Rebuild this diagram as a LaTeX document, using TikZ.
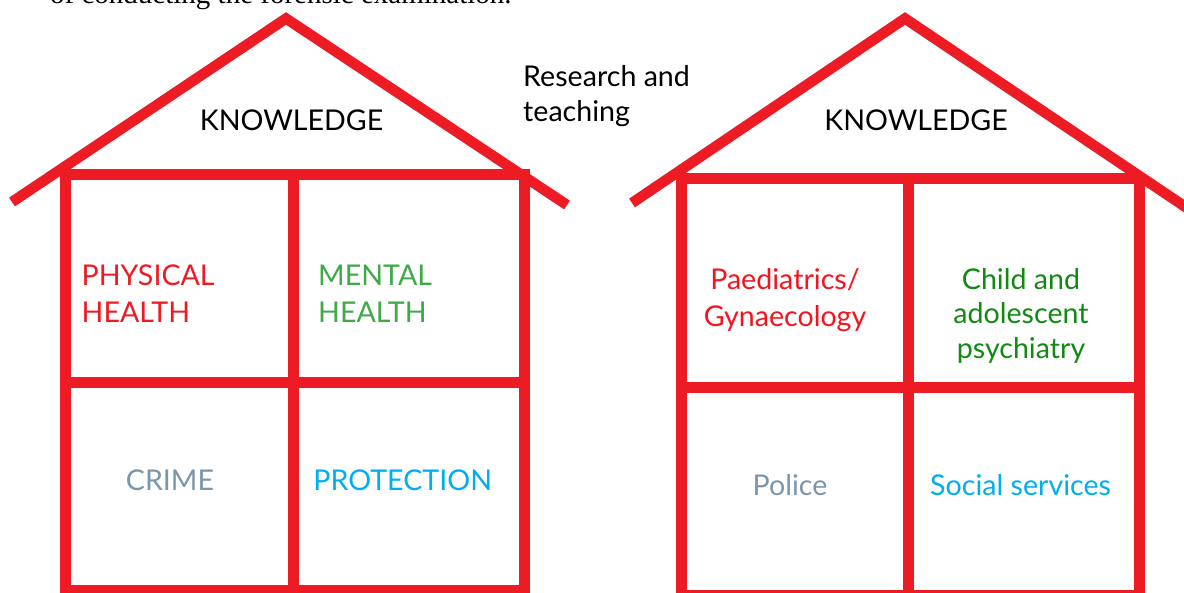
\documentclass[tikz,border=0pt]{standalone}
\usepackage{fontspec}
\setmainfont{Lato}
\newfontfamily\bodyserif{Liberation Serif}
\definecolor{housered}{HTML}{ED1C24}
\definecolor{brightred}{HTML}{F5141E}
\definecolor{midgreen}{HTML}{3DAA47}
\definecolor{darkgreen}{HTML}{108A10}
\definecolor{slate}{HTML}{7A96AA}
\definecolor{skyblue}{HTML}{00AEEF}
\begin{document}
\begin{tikzpicture}[x=1pt,y=-1pt,
  wall/.style={draw=housered,line width=11pt,line join=miter},
  roofline/.style={draw=housered,line width=10.5pt,line join=miter,line cap=butt},
  lbl/.style={inner sep=0pt,font=\fontsize{28.6}{35}\selectfont}]
\useasboundingbox (0,0) rectangle (1184,592);
\clip (0,0) rectangle (1184,592);
% cut-off line of running text at the top
\node[inner sep=0pt,anchor=base west,font=\bodyserif\fontsize{29}{34}\selectfont] (toptext) at (50,3) {of conducting the forensic examination.};
% left house
\draw[roofline] (12,202) -- (286,18.5) -- (567,205);
\draw[wall] (65.5,174.5) rectangle (524.5,590.5);
\draw[wall] (293.5,174.5) -- (293.5,590.5);
\draw[wall] (65.5,382.5) -- (524.5,382.5);
% right house
\draw[roofline] (632,203) -- (905,18.5) -- (1190,210);
\draw[wall] (681.5,178.5) rectangle (1139.5,595.5);
\draw[wall] (908.5,178.5) -- (908.5,595.5);
\draw[wall] (681.5,387.5) -- (1139.5,387.5);
% labels
\node[lbl,anchor=base] (know1) at (291.5,130) {KNOWLEDGE};
\node[lbl,anchor=base] (know2) at (916,130) {KNOWLEDGE};
\node[lbl,anchor=base west] (research) at (523,86) {\begin{tabular}[t]{@{}l@{}}Research and\\teaching\end{tabular}};
\node[lbl,anchor=base west,text=housered] (phys) at (81.5,285.7) {\fontsize{28.6}{36.6}\selectfont\begin{tabular}[t]{@{}l@{}}PHYSICAL\\HEALTH\end{tabular}};
\node[lbl,anchor=base west,text=midgreen] (mental) at (318,285.7) {\fontsize{28.6}{36.6}\selectfont\begin{tabular}[t]{@{}l@{}}MENTAL\\HEALTH\end{tabular}};
\node[lbl,anchor=base,text=slate] (crime) at (170,490.7) {CRIME};
\node[lbl,anchor=base,text=skyblue] (prot) at (402.7,490.7) {PROTECTION};
\node[lbl,anchor=base,text=brightred] (paed) at (785,289) {\fontsize{28.6}{37}\selectfont\begin{tabular}[t]{@{}c@{}}Paediatrics/\\Gynaecology\end{tabular}};
\node[lbl,anchor=base,text=darkgreen] (child) at (1021,289) {\fontsize{28.6}{34.5}\selectfont\begin{tabular}[t]{@{}c@{}}Child and\\adolescent\\psychiatry\end{tabular}};
\node[lbl,anchor=base,text=slate] (police) at (790,495) {Police};
\node[lbl,anchor=base,text=skyblue] (social) at (1020.6,495) {Social services};
\end{tikzpicture}
\end{document}
